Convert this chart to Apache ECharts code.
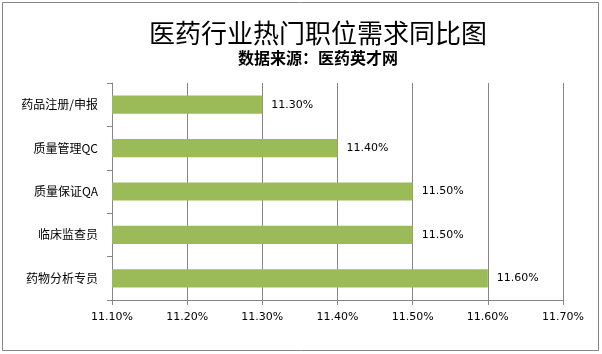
<!DOCTYPE html>
<html>
<head>
<meta charset="utf-8">
<script src="https://cdn.jsdelivr.net/npm/echarts@6/dist/echarts.min.js"></script>
<style>
  html, body { margin: 0; padding: 0; background: #fff; }
  #main { width: 602px; height: 354px; }
</style>
</head>
<body>
<div id="main"></div>
<script>
// 职位名称（从上到下）
var categories = ['药品注册/申报', '质量管理QC', '质量保证QA', '临床监查员', '药物分析专员'];
// 需求同比 (%)
var values = [11.30, 11.40, 11.50, 11.50, 11.60];
var axisMin = 11.1, axisMax = 11.7, axisStep = 0.1;

var myChart = echarts.init(document.getElementById('main'));
myChart.setOption({
    animation: false,
    backgroundColor: '#fff',
    title: [{
        text: '医药行业热门职位需求同比图',
        left: 313,
        textAlign: 'center',
        top: 15,
        textStyle: { fontFamily: 'Noto Sans CJK SC', fontSize: 26, fontWeight: 'normal', color: '#000' }
    }, {
        text: '数据来源：医药英才网',
        left: 313,
        textAlign: 'center',
        top: 45,
        textStyle: { fontFamily: 'Noto Sans CJK SC', fontSize: 16, fontWeight: 'bold', color: '#000' }
    }],
    graphic: [{
        type: 'rect',
        shape: { x: 2.5, y: 2.5, width: 596, height: 348 },
        style: { fill: 'none', stroke: '#868686', lineWidth: 1 },
        silent: true
    }],
    grid: { left: 112, right: 39, top: 83, bottom: 54 },
    xAxis: {
        type: 'value',
        min: axisMin,
        max: axisMax,
        interval: axisStep,
        axisLine: { show: true, lineStyle: { color: '#868686' } },
        axisTick: { show: true, length: 5, lineStyle: { color: '#868686' } },
        splitLine: { show: true, lineStyle: { color: '#868686' } },
        axisLabel: {
            margin: 12,
            color: '#000',
            fontSize: 11,
            fontFamily: 'DejaVu Sans',
            formatter: function (v) { return v.toFixed(2) + '%'; }
        }
    },
    yAxis: {
        type: 'category',
        data: categories,
        inverse: true,
        axisLine: { show: true, lineStyle: { color: '#868686' } },
        axisTick: { show: true, length: 5, lineStyle: { color: '#868686' } },
        axisLabel: { margin: 14, color: '#000', fontSize: 12, fontFamily: 'Noto Sans CJK SC' }
    },
    series: [{
        type: 'bar',
        data: values,
        barCategoryGap: '58%',
        itemStyle: { color: '#9BBB59' },
        label: {
            show: true,
            position: 'right',
            distance: 9,
            color: '#000',
            fontSize: 11,
            fontFamily: 'DejaVu Sans',
            formatter: function (p) { return p.value.toFixed(2) + '%'; }
        }
    }]
});
</script>
</body>
</html>
